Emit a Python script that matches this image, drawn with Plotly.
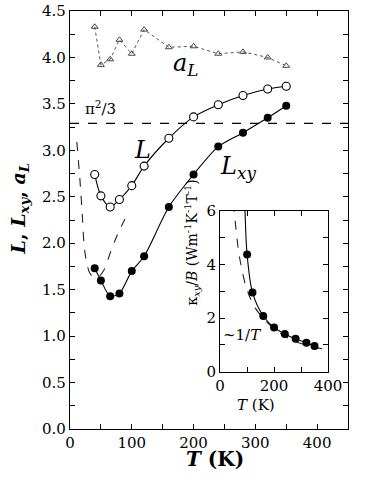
import numpy as np
import plotly.graph_objects as go

# main panel data
T = [40, 50, 65, 80, 100, 120, 160, 200, 240, 280, 320, 350]
L = [2.74, 2.51, 2.39, 2.47, 2.62, 2.83, 3.13, 3.36, 3.49, 3.59, 3.66, 3.69]
L_XY = [1.73, 1.60, 1.43, 1.46, 1.70, 1.86, 2.39, 2.74, 3.04, 3.19, 3.35, 3.48]
A_L = [4.33, 3.92, 3.98, 4.19, 4.04, 4.30, 4.11, 4.12, 4.04, 4.06, 4.00, 3.91]

# dashed curve at low T
DASH_T = [11, 16, 20, 23, 27, 32, 38, 46, 54, 67, 78, 89]
DASH_L = [3.09, 2.69, 2.29, 1.97, 1.79, 1.68, 1.64, 1.64, 1.70, 1.93, 2.11, 2.26]

# inset: kappa_xy / B
KXY_T = [100, 120, 160, 200, 240, 280, 320, 350]
KXY_B = [4.37, 2.95, 2.08, 1.65, 1.41, 1.23, 1.08, 0.96]
KXY_TOP_T = 92      # where the solid line leaves the top of the inset
KXY_TOP = 6.1

# ~1/T guide curve
INV_T = [50, 60, 75, 100, 130, 160, 200, 250, 300, 380]
INV_B = [6.3, 5.2, 4.1, 3.05, 2.38, 2.0, 1.6, 1.27, 1.05, 0.85]

FONT = "DejaVu Serif"
BLACK = "black"

fig = go.Figure()

# main panel
fig.add_trace(go.Scatter(x=T, y=A_L, mode="lines+markers",
                         line=dict(color="#555", width=1, dash="dot"),
                         marker=dict(symbol="triangle-up-open", size=6, color="#444",
                                     line=dict(width=1))))
fig.add_trace(go.Scatter(x=DASH_T, y=DASH_L, mode="lines",
                         line=dict(color="#222", width=1.1, dash="dash", shape="spline")))
fig.add_trace(go.Scatter(x=T, y=L, mode="lines+markers",
                         line=dict(color=BLACK, width=1.1, shape="spline", smoothing=0.8),
                         marker=dict(symbol="circle", size=8, color="white",
                                     line=dict(color=BLACK, width=1.1))))
fig.add_trace(go.Scatter(x=T, y=L_XY, mode="lines+markers",
                         line=dict(color=BLACK, width=1.1, shape="spline", smoothing=0.8),
                         marker=dict(symbol="circle", size=8, color=BLACK)))
fig.add_hline(y=np.pi ** 2 / 3, line=dict(color=BLACK, width=1.1, dash="dash"))

# inset
fig.add_trace(go.Scatter(x=INV_T, y=INV_B, mode="lines", xaxis="x2", yaxis="y2",
                         line=dict(color="#222", width=1.1, dash="dash", shape="spline")))
fig.add_trace(go.Scatter(x=[KXY_TOP_T] + KXY_T, y=[KXY_TOP] + KXY_B, mode="lines",
                         xaxis="x2", yaxis="y2",
                         line=dict(color=BLACK, width=1.1, shape="spline", smoothing=0.8)))
fig.add_trace(go.Scatter(x=KXY_T, y=KXY_B, mode="markers", xaxis="x2", yaxis="y2",
                         marker=dict(symbol="circle", size=8, color=BLACK)))

axis_common = dict(showline=True, linecolor=BLACK, linewidth=1.2, mirror="ticks",
                   ticks="inside", ticklen=5, tickcolor=BLACK, tickwidth=1,
                   showgrid=False, zeroline=False, automargin=False,
                   tickfont=dict(family=FONT, size=15, color=BLACK))

fig.update_layout(
    width=388, height=485,
    margin=dict(l=70, r=40, t=11, b=56),
    paper_bgcolor="white", plot_bgcolor="white",
    showlegend=False,
    font=dict(family=FONT, color=BLACK),
    xaxis=dict(range=[0, 450], dtick=100, tick0=0, domain=[0, 1],
               minor=dict(dtick=50, ticks="inside", ticklen=5, tickcolor=BLACK),
               **axis_common),
    yaxis=dict(range=[0, 4.5], dtick=0.5, tick0=0, tickformat=".1f", domain=[0, 1],
               minor=dict(dtick=0.25, ticks="inside", ticklen=5, tickcolor=BLACK),
               **axis_common),
    xaxis2=dict(range=[0, 400], dtick=200, tick0=0, domain=[0.54, 0.928],
                anchor="y2",
                minor=dict(dtick=100, ticks="inside", ticklen=5, tickcolor=BLACK),
                **axis_common),
    yaxis2=dict(range=[0, 6], dtick=2, tick0=0, domain=[0.137, 0.522],
                anchor="x2",
                minor=dict(dtick=1, ticks="inside", ticklen=5, tickcolor=BLACK),
                **axis_common),
)

annotations = [
    dict(text="<b><i>T</i> (K)</b>", xref="paper", yref="paper", x=0.52, y=-0.105,
         font=dict(size=20)),
    dict(text="<b><i>L</i>, <i>L</i><sub><i>xy</i></sub>, <i>a</i><sub><i>L</i></sub></b>",
         xref="paper", yref="paper", x=-0.235, y=0.528, textangle=-90,
         font=dict(size=19)),
    dict(text="π<sup>2</sup>/3", x=50, y=3.46, font=dict(size=15)),
    dict(text="<i>a</i><sub><i>L</i></sub>", x=187, y=3.92, font=dict(size=24)),
    dict(text="<i>L</i>", x=117, y=3.0, font=dict(size=24)),
    dict(text="<i>L</i><sub><i>xy</i></sub>", x=272, y=2.82, font=dict(size=24)),
    dict(text="~1/<i>T</i>", xref="x2", yref="y2", x=80, y=1.36, font=dict(size=15)),
    dict(text="<i>T</i> (K)", xref="paper", yref="paper", x=0.7435, y=0.03,
         font=dict(size=15)),
    dict(text="κ<sub><i>xy</i></sub>/<i>B</i> (Wm<sup>-1</sup>K<sup>-1</sup>T<sup>-1</sup>)",
         xref="paper", yref="paper", x=0.438, y=0.29, textangle=-90,
         font=dict(size=14)),
]
for a in annotations:
    a.setdefault("xref", "x")
    a.setdefault("yref", "y")
    fig.add_annotation(showarrow=False, font_family=FONT, font_color=BLACK, **a)

# drop the browser's default 8px body margin so the figure sits at the page corner
fig.write_html("out.html", config={"displayModeBar": False},
               post_script="document.body.style.margin='0';")
